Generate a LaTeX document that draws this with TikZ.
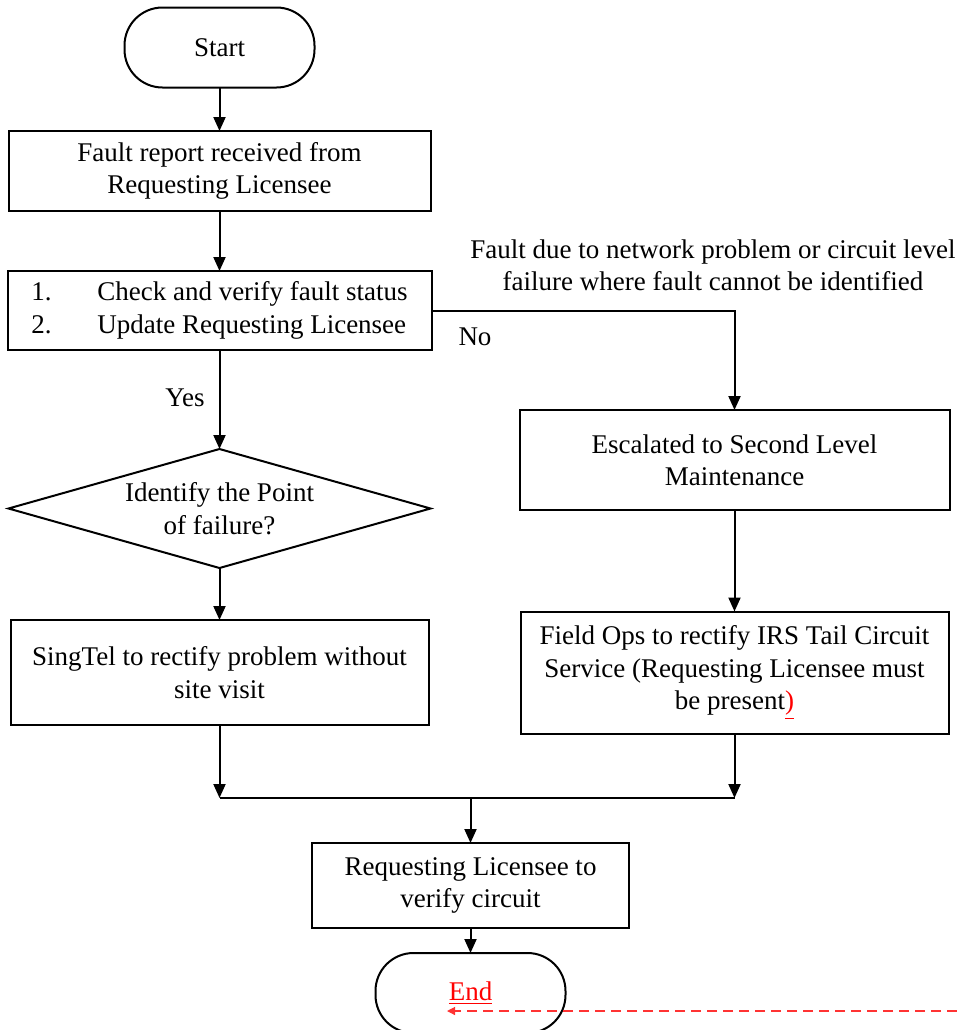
\documentclass[tikz,border=0pt]{standalone}
\usepackage{fontspec}
\setmainfont{Liberation Serif}
\usetikzlibrary{shapes.geometric,arrows.meta}

\begin{document}
\begin{tikzpicture}[x=0.5pt, y=-0.5pt, line width=1pt,
    >={Triangle[length=7pt,width=6pt]},
    font=\fontsize{13.5}{16.2}\selectfont,
    box/.style={draw, rectangle, align=center, inner sep=0pt, outer sep=0pt},
    term/.style={draw, rectangle, rounded corners=19pt, minimum width=95pt, minimum height=40pt, inner sep=0pt, outer sep=0pt},
    decision/.style={draw, diamond, aspect=3.55, align=center, inner sep=0pt, outer sep=0pt, minimum width=211pt, minimum height=59.5pt}]
    \useasboundingbox (0,0) rectangle (957,1030);
    \node[term] (start) at (219.5,47.5) {Start};
    \node[box, minimum width=211pt, minimum height=40pt] (fault) at (219.5,171) {Fault report received from\\Requesting Licensee};
    \node[box, minimum width=212pt, minimum height=39.5pt, align=left] (check) at (219.5,310.5) {\makebox[33pt][l]{1.}Check and verify fault status\\\makebox[33pt][l]{2.}Update Requesting Licensee};
    \node[decision] (ident) at (219.5,508.5) {Identify the Point\\of failure?};
    \node[box, minimum width=209pt, minimum height=52.5pt] (singtel) at (219.5,672.5) {SingTel to rectify problem without\\site visit};
    \node[box, minimum width=215pt, minimum height=50pt] (esc) at (734.5,460) {Escalated to Second Level\\Maintenance};
    \node[box, minimum width=214pt, minimum height=61pt] (field) at (734.5,672.5) {Field Ops to rectify IRS Tail Circuit\\Service (Requesting Licensee must\\be present\textcolor{red}{\underline{)}}};
    \node[box, minimum width=158.5pt, minimum height=42.5pt] (verify) at (470.5,885.5) {Requesting Licensee to\\verify circuit};
    \node[term, text=red] (end) at (470.5,993) {\underline{End}};
    \node[align=center] (note) at (713,265) {Fault due to network problem or circuit level\\failure where fault cannot be identified};
    \node (yes) at (185,398) {Yes};
    \node (no) at (475,337) {No};
    \coordinate (join) at (470.5,798);
    \coordinate (mark) at (447,1011);
    \coordinate (rim) at (957,1011);

    \draw[->] (start.south) -- (fault.north);
    \draw[->] (fault.south) -- (check.north);
    \draw[->] (check.south) -- (ident.north);
    \draw[->] (check.east) -- (check.east -| esc.north) -- (esc.north);
    \draw[->] (esc.south) -- (field.north);
    \draw[->] (ident.south) -- (singtel.north);
    \draw[->] (singtel.south) -- (singtel.south |- join);
    \draw[->] (field.south) -- (field.south |- join);
    \draw (singtel.south |- join) -- (field.south |- join);
    \draw[->] (join) -- (verify.north);
    \draw[->] (verify.south) -- (end.north);
    \draw[red!80, line width=0.6pt, dash pattern=on 5pt off 3pt, -{Triangle[length=4pt,width=4pt]}] (rim) -- (mark);
\end{tikzpicture}
\end{document}
